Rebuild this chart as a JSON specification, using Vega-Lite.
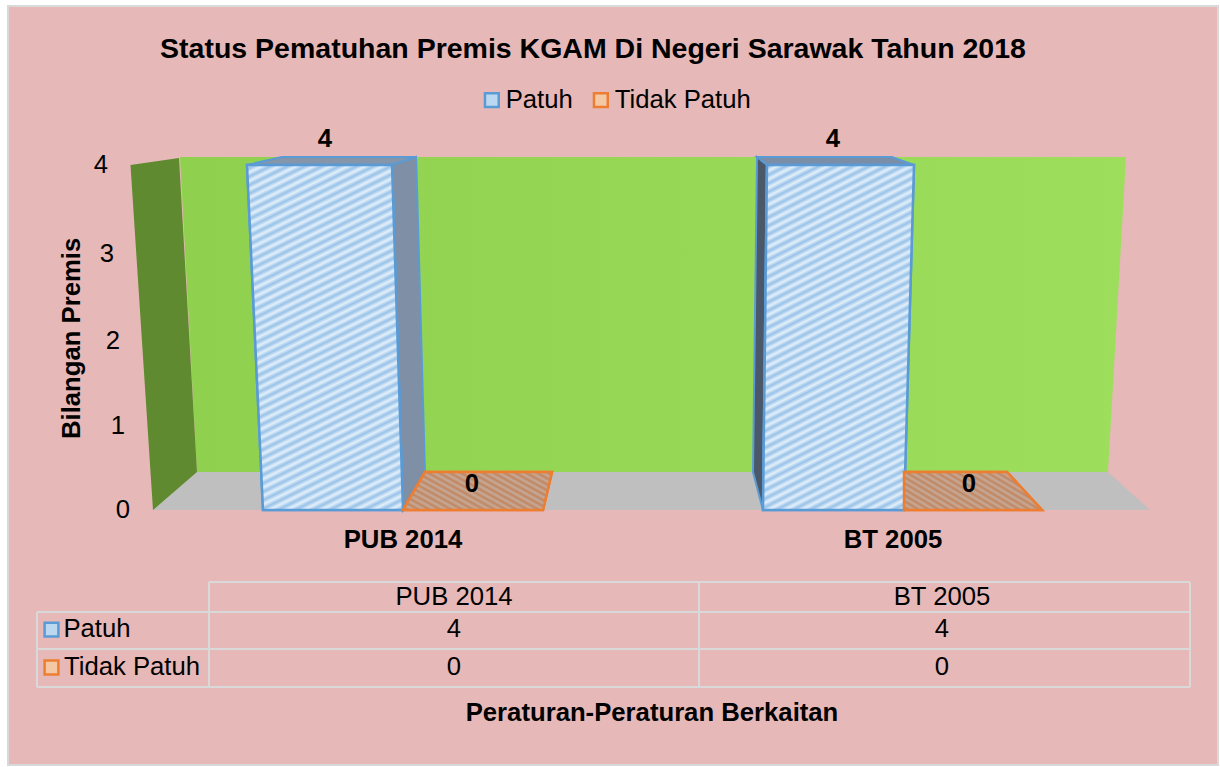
{"$schema":"https://vega.github.io/schema/vega-lite/v6.json","width":1220,"height":767,"autosize":"none","padding":0,"background":"#ffffff","config":{"view":{"stroke":null},"font":"Liberation Sans"},
"title":{"text":"Status Pematuhan Premis KGAM Di Negeri Sarawak Tahun 2018","anchor":"middle","frame":"group","offset":0,"dx":-17,"dy":86,"baseline":"alphabetic","font":"Liberation Sans","fontSize":28.5,"fontWeight":"bold","color":"#000000"},
"datasets":{
"bingkai":[{"x":8,"x2":1218,"y":5.787,"y2":-3.036}],
"dinding":[{"x":180,"x2":1126,"y":4.09},{"x":197,"x2":1108,"y":0.452}],
"lantai":[{"x":197,"x2":1108,"y":0.452},{"x":152,"x2":1150,"y":0}],
"sisiKiri":[{"x":179,"x2":179,"y":4.08},{"x":130.5,"x2":179.4,"y":4},{"x":150.5,"x2":197,"y":0.452},{"x":153,"x2":153,"y":0}],
"atasPUB":[{"x":282,"x2":416,"y":4.09},{"x":247,"x2":392,"y":4}],
"sisiPUB":[{"x":416,"x2":416,"y":4.09},{"x":392,"x2":416.4,"y":4},{"x":401.8,"x2":425,"y":0.452},{"x":403,"x2":403,"y":0}],
"atasBT":[{"x":757,"x2":892,"y":4.09},{"x":767,"x2":914,"y":4}],
"sisiBT":[{"x":757,"x2":757,"y":4.09},{"x":756.9,"x2":767,"y":4},{"x":753,"x2":763.4,"y":0.452},{"x":763,"x2":763,"y":0}],
"palang":[
{"peraturan":"PUB 2014","status":"Tidak Patuh","y":0.452,"x":425,"x2":552},
{"peraturan":"PUB 2014","status":"Tidak Patuh","y":0,"x":403,"x2":543},
{"peraturan":"BT 2005","status":"Tidak Patuh","y":0.452,"x":904,"x2":1007},
{"peraturan":"BT 2005","status":"Tidak Patuh","y":0,"x":904,"x2":1042},
{"peraturan":"PUB 2014","status":"Patuh","y":4,"x":247,"x2":392},
{"peraturan":"PUB 2014","status":"Patuh","y":0,"x":263,"x2":403},
{"peraturan":"BT 2005","status":"Patuh","y":4,"x":767,"x2":914},
{"peraturan":"BT 2005","status":"Patuh","y":0,"x":763,"x2":904}],
"kunci":[{"status":"Patuh","x":51.5,"y":-1.423},{"status":"Tidak Patuh","x":51.5,"y":-1.875}],
"garis":[
{"x":209,"x2":1190,"y":-0.857,"y2":-0.857},{"x":37,"x2":1190,"y":-1.214,"y2":-1.214},{"x":37,"x2":1190,"y":-1.655,"y2":-1.655},{"x":37,"x2":1190,"y":-2.107,"y2":-2.107},
{"x":37,"x2":37,"y":-1.214,"y2":-2.107},{"x":209,"x2":209,"y":-0.857,"y2":-2.107},{"x":699,"x2":699,"y":-0.857,"y2":-2.107},{"x":1190,"x2":1190,"y":-0.857,"y2":-2.107}],
"biasa":[
{"teks":"4","x":101,"y":4},{"teks":"3","x":107,"y":3},{"teks":"2","x":113,"y":2},{"teks":"1","x":118,"y":1},{"teks":"0","x":123,"y":0},
{"teks":"PUB 2014","x":454,"y":-1.036},{"teks":"BT 2005","x":942,"y":-1.036},
{"teks":"Patuh","x":97,"y":-1.417},{"teks":"4","x":454,"y":-1.417},{"teks":"4","x":942,"y":-1.417},
{"teks":"Tidak Patuh","x":132,"y":-1.869},{"teks":"0","x":454,"y":-1.869},{"teks":"0","x":942,"y":-1.869}],
"tebal":[
{"teks":"4","x":325,"y":4.29},{"teks":"4","x":833,"y":4.29},{"teks":"0","x":472,"y":0.31},{"teks":"0","x":969,"y":0.31},
{"teks":"PUB 2014","x":403,"y":-0.357},{"teks":"BT 2005","x":893,"y":-0.357},
{"teks":"Peraturan-Peraturan Berkaitan","x":652,"y":-2.417}],
"judulY":[{"teks":"Bilangan Premis","x":72,"y":2.03}]
},
"encoding":{
"x":{"field":"x","type":"quantitative","axis":null,"scale":{"domain":[0,1220],"nice":false,"zero":false}},
"y":{"field":"y","type":"quantitative","axis":null,"scale":{"domain":[0,1,2,3,4],"range":[510,426,341,254,165],"nice":false,"zero":false}}
},
"layer":[
{"data":{"name":"bingkai"},"mark":{"type":"rect","fill":"#E6B8B7","stroke":"#d9d9d9","strokeWidth":2},"encoding":{"x2":{"field":"x2"},"y2":{"field":"y2"}}},
{"data":{"name":"dinding"},"mark":{"type":"area","orient":"horizontal","fill":{"gradient":"linear","x1":0,"y1":0,"x2":1,"y2":0,"stops":[{"offset":0,"color":"#8FD14F"},{"offset":1,"color":"#9DDF5D"}]}},"encoding":{"x2":{"field":"x2"}}},
{"data":{"name":"lantai"},"mark":{"type":"area","orient":"horizontal","fill":"#BFBFBF"},"encoding":{"x2":{"field":"x2"}}},
{"data":{"name":"sisiKiri"},"mark":{"type":"area","orient":"horizontal","fill":"#5F8A30"},"encoding":{"x2":{"field":"x2"}}},
{"data":{"name":"atasPUB"},"mark":{"type":"area","orient":"horizontal","fill":"#8595AA","stroke":"#5B9BD5","strokeWidth":2},"encoding":{"x2":{"field":"x2"}}},
{"data":{"name":"sisiPUB"},"mark":{"type":"area","orient":"horizontal","fill":"#7E8FA6","stroke":"#5B9BD5","strokeWidth":2},"encoding":{"x2":{"field":"x2"}}},
{"data":{"name":"atasBT"},"mark":{"type":"area","orient":"horizontal","fill":"#7B8EA8","stroke":"#5B9BD5","strokeWidth":2},"encoding":{"x2":{"field":"x2"}}},
{"data":{"name":"sisiBT"},"mark":{"type":"area","orient":"horizontal","fill":"#4A5869","stroke":"#5B9BD5","strokeWidth":2},"encoding":{"x2":{"field":"x2"}}},
{"data":{"name":"palang"},"mark":{"type":"area","orient":"horizontal","strokeWidth":2.5},"encoding":{
"x2":{"field":"x2"},
"detail":{"field":"peraturan"},
"fill":{"field":"status","type":"nominal","title":null,"scale":{"domain":["Patuh","Tidak Patuh"],"range":["#BCD8F0","#F5C8A5"]},"legend":{"orient":"none","legendX":479,"legendY":87,"direction":"horizontal","symbolType":"square","symbolSize":190,"symbolStrokeWidth":2.5,"labelFontSize":25.7,"labelFont":"Liberation Sans","labelColor":"#000000","labelOffset":1,"columnPadding":15,"symbolOpacity":1}},
"stroke":{"field":"status","type":"nominal","title":null,"scale":{"domain":["Patuh","Tidak Patuh"],"range":["#5B9BD5","#ED7D31"]}}
}},
{"data":{"name":"palang"},"transform":[{"filter":"datum.status === 'Patuh'"}],"mark":{"type":"area","orient":"horizontal","strokeWidth":2.5,"fill":{"gradient":"linear","x1":0,"y1":0,"x2":0.26,"y2":1.17,"stops":[{"offset":0,"color":"#e3f0fb"},{"offset":0.01,"color":"#98c2e8"},{"offset":0.02,"color":"#e3f0fb"},{"offset":0.03,"color":"#98c2e8"},{"offset":0.04,"color":"#e3f0fb"},{"offset":0.05,"color":"#98c2e8"},{"offset":0.06,"color":"#e3f0fb"},{"offset":0.07,"color":"#98c2e8"},{"offset":0.08,"color":"#e3f0fb"},{"offset":0.09,"color":"#98c2e8"},{"offset":0.1,"color":"#e3f0fb"},{"offset":0.11,"color":"#98c2e8"},{"offset":0.12,"color":"#e3f0fb"},{"offset":0.13,"color":"#98c2e8"},{"offset":0.14,"color":"#e3f0fb"},{"offset":0.15,"color":"#98c2e8"},{"offset":0.16,"color":"#e3f0fb"},{"offset":0.17,"color":"#98c2e8"},{"offset":0.18,"color":"#e3f0fb"},{"offset":0.19,"color":"#98c2e8"},{"offset":0.2,"color":"#e3f0fb"},{"offset":0.21,"color":"#98c2e8"},{"offset":0.22,"color":"#e3f0fb"},{"offset":0.23,"color":"#98c2e8"},{"offset":0.24,"color":"#e3f0fb"},{"offset":0.25,"color":"#98c2e8"},{"offset":0.26,"color":"#e3f0fb"},{"offset":0.27,"color":"#98c2e8"},{"offset":0.28,"color":"#e3f0fb"},{"offset":0.29,"color":"#98c2e8"},{"offset":0.3,"color":"#e3f0fb"},{"offset":0.31,"color":"#98c2e8"},{"offset":0.32,"color":"#e3f0fb"},{"offset":0.33,"color":"#98c2e8"},{"offset":0.34,"color":"#e3f0fb"},{"offset":0.35,"color":"#98c2e8"},{"offset":0.36,"color":"#e3f0fb"},{"offset":0.37,"color":"#98c2e8"},{"offset":0.38,"color":"#e3f0fb"},{"offset":0.39,"color":"#98c2e8"},{"offset":0.4,"color":"#e3f0fb"},{"offset":0.41,"color":"#98c2e8"},{"offset":0.42,"color":"#e3f0fb"},{"offset":0.43,"color":"#98c2e8"},{"offset":0.44,"color":"#e3f0fb"},{"offset":0.45,"color":"#98c2e8"},{"offset":0.46,"color":"#e3f0fb"},{"offset":0.47,"color":"#98c2e8"},{"offset":0.48,"color":"#e3f0fb"},{"offset":0.49,"color":"#98c2e8"},{"offset":0.5,"color":"#e3f0fb"},{"offset":0.51,"color":"#98c2e8"},{"offset":0.52,"color":"#e3f0fb"},{"offset":0.53,"color":"#98c2e8"},{"offset":0.54,"color":"#e3f0fb"},{"offset":0.55,"color":"#98c2e8"},{"offset":0.56,"color":"#e3f0fb"},{"offset":0.57,"color":"#98c2e8"},{"offset":0.58,"color":"#e3f0fb"},{"offset":0.59,"color":"#98c2e8"},{"offset":0.6,"color":"#e3f0fb"},{"offset":0.61,"color":"#98c2e8"},{"offset":0.62,"color":"#e3f0fb"},{"offset":0.63,"color":"#98c2e8"},{"offset":0.64,"color":"#e3f0fb"},{"offset":0.65,"color":"#98c2e8"},{"offset":0.66,"color":"#e3f0fb"},{"offset":0.67,"color":"#98c2e8"},{"offset":0.68,"color":"#e3f0fb"},{"offset":0.69,"color":"#98c2e8"},{"offset":0.7,"color":"#e3f0fb"},{"offset":0.71,"color":"#98c2e8"},{"offset":0.72,"color":"#e3f0fb"},{"offset":0.73,"color":"#98c2e8"},{"offset":0.74,"color":"#e3f0fb"},{"offset":0.75,"color":"#98c2e8"},{"offset":0.76,"color":"#e3f0fb"},{"offset":0.77,"color":"#98c2e8"},{"offset":0.78,"color":"#e3f0fb"},{"offset":0.79,"color":"#98c2e8"},{"offset":0.8,"color":"#e3f0fb"},{"offset":0.81,"color":"#98c2e8"},{"offset":0.82,"color":"#e3f0fb"},{"offset":0.83,"color":"#98c2e8"},{"offset":0.84,"color":"#e3f0fb"},{"offset":0.85,"color":"#98c2e8"},{"offset":0.86,"color":"#e3f0fb"},{"offset":0.87,"color":"#98c2e8"},{"offset":0.88,"color":"#e3f0fb"},{"offset":0.89,"color":"#98c2e8"},{"offset":0.9,"color":"#e3f0fb"},{"offset":0.91,"color":"#98c2e8"},{"offset":0.92,"color":"#e3f0fb"},{"offset":0.93,"color":"#98c2e8"},{"offset":0.94,"color":"#e3f0fb"},{"offset":0.95,"color":"#98c2e8"},{"offset":0.96,"color":"#e3f0fb"},{"offset":0.97,"color":"#98c2e8"},{"offset":0.98,"color":"#e3f0fb"},{"offset":0.99,"color":"#98c2e8"},{"offset":1,"color":"#e3f0fb"}]}},"encoding":{"x2":{"field":"x2"},"detail":{"field":"peraturan"},"stroke":{"field":"status","type":"nominal","title":null}}},
{"data":{"name":"palang"},"transform":[{"filter":"datum.status === 'Tidak Patuh'"}],"mark":{"type":"area","orient":"horizontal","strokeWidth":2.5,"fill":{"gradient":"linear","x1":1,"y1":0,"x2":-0.204,"y2":0.557,"stops":[{"offset":0,"color":"#c6aa9a"},{"offset":0.025,"color":"#c08660"},{"offset":0.05,"color":"#c6aa9a"},{"offset":0.075,"color":"#c08660"},{"offset":0.1,"color":"#c6aa9a"},{"offset":0.125,"color":"#c08660"},{"offset":0.15,"color":"#c6aa9a"},{"offset":0.175,"color":"#c08660"},{"offset":0.2,"color":"#c6aa9a"},{"offset":0.225,"color":"#c08660"},{"offset":0.25,"color":"#c6aa9a"},{"offset":0.275,"color":"#c08660"},{"offset":0.3,"color":"#c6aa9a"},{"offset":0.325,"color":"#c08660"},{"offset":0.35,"color":"#c6aa9a"},{"offset":0.375,"color":"#c08660"},{"offset":0.4,"color":"#c6aa9a"},{"offset":0.425,"color":"#c08660"},{"offset":0.45,"color":"#c6aa9a"},{"offset":0.475,"color":"#c08660"},{"offset":0.5,"color":"#c6aa9a"},{"offset":0.525,"color":"#c08660"},{"offset":0.55,"color":"#c6aa9a"},{"offset":0.575,"color":"#c08660"},{"offset":0.6,"color":"#c6aa9a"},{"offset":0.625,"color":"#c08660"},{"offset":0.65,"color":"#c6aa9a"},{"offset":0.675,"color":"#c08660"},{"offset":0.7,"color":"#c6aa9a"},{"offset":0.725,"color":"#c08660"},{"offset":0.75,"color":"#c6aa9a"},{"offset":0.775,"color":"#c08660"},{"offset":0.8,"color":"#c6aa9a"},{"offset":0.825,"color":"#c08660"},{"offset":0.85,"color":"#c6aa9a"},{"offset":0.875,"color":"#c08660"},{"offset":0.9,"color":"#c6aa9a"},{"offset":0.925,"color":"#c08660"},{"offset":0.95,"color":"#c6aa9a"},{"offset":0.975,"color":"#c08660"},{"offset":1,"color":"#c6aa9a"}]}},"encoding":{"x2":{"field":"x2"},"detail":{"field":"peraturan"},"stroke":{"field":"status","type":"nominal","title":null}}},
{"data":{"name":"kunci"},"mark":{"type":"point","shape":"square","filled":true,"size":190,"strokeWidth":2.5,"opacity":1},"encoding":{
"fill":{"field":"status","type":"nominal","title":null},
"stroke":{"field":"status","type":"nominal","title":null}
}},
{"data":{"name":"garis"},"mark":{"type":"rule","color":"#d9d9d9","strokeWidth":2},"encoding":{"x2":{"field":"x2"},"y2":{"field":"y2"}}},
{"data":{"name":"biasa"},"mark":{"type":"text","font":"Liberation Sans","fontSize":25.7,"color":"#000000","baseline":"middle","align":"center"},"encoding":{"text":{"field":"teks"}}},
{"data":{"name":"tebal"},"mark":{"type":"text","font":"Liberation Sans","fontSize":25.7,"fontWeight":"bold","color":"#000000","baseline":"middle","align":"center"},"encoding":{"text":{"field":"teks"}}},
{"data":{"name":"judulY"},"mark":{"type":"text","font":"Liberation Sans","fontSize":25.7,"fontWeight":"bold","color":"#000000","baseline":"middle","align":"center","angle":270},"encoding":{"text":{"field":"teks"}}}
]}
